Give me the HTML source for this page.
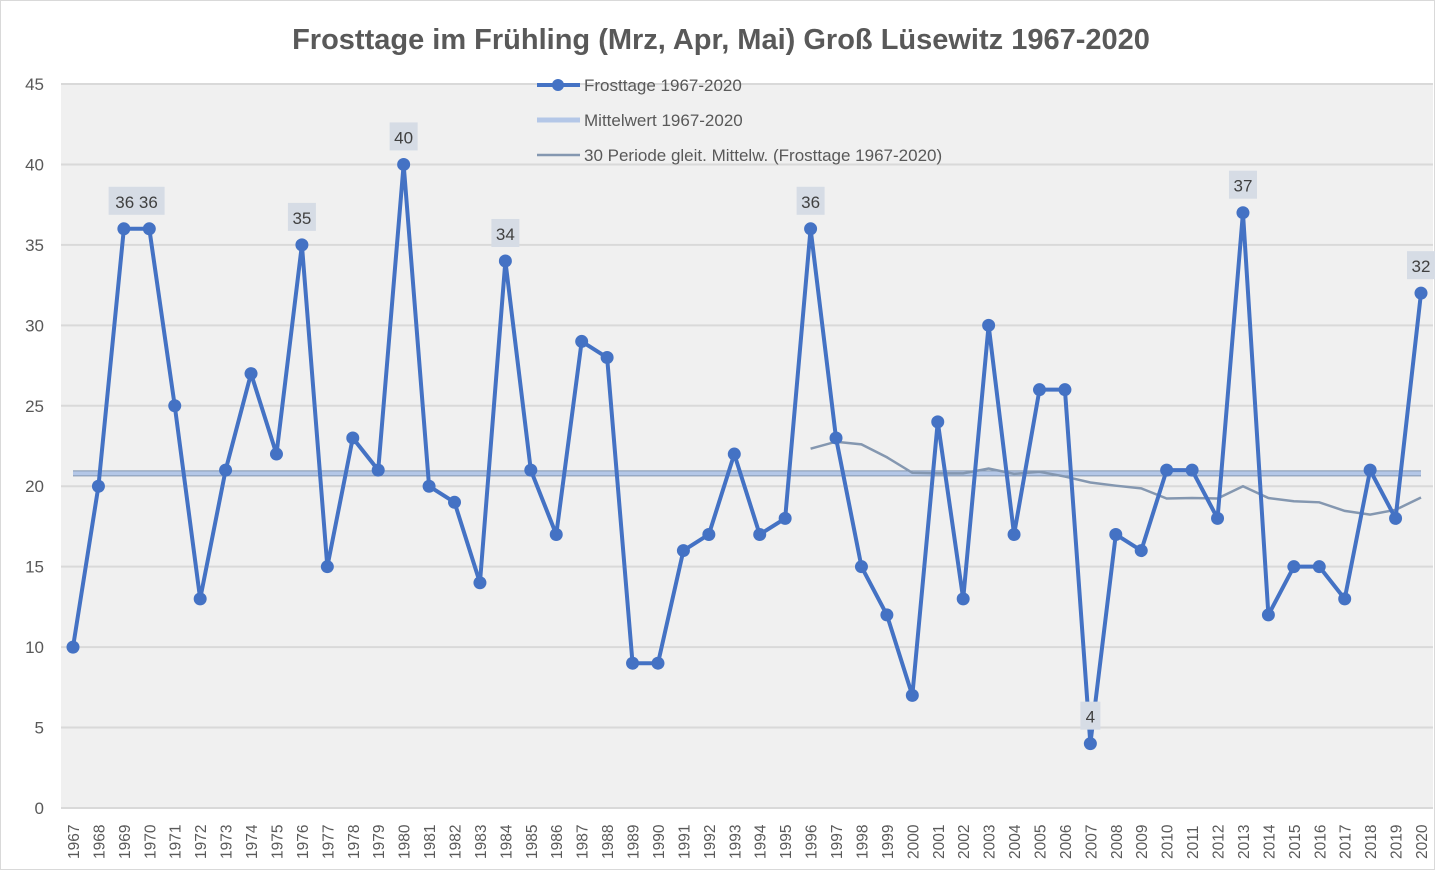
<!DOCTYPE html>
<html><head><meta charset="utf-8"><style>
html,body{margin:0;padding:0;background:#fff;}
svg{display:block;font-family:"Liberation Sans",sans-serif;}
</style></head><body>
<svg id="c" width="1441" height="873" xmlns="http://www.w3.org/2000/svg">
<rect x="0.5" y="0.5" width="1434" height="869" fill="#fff" stroke="#d9d9d9"/>
<rect x="61" y="84" width="1372" height="724" fill="#f0f0f0"/>
<text x="721" y="49" text-anchor="middle" font-size="29" font-weight="bold" fill="#595959">Frosttage im Frühling (Mrz, Apr, Mai) Groß Lüsewitz 1967-2020</text>
<g id="g"></g>
</svg>
<script>
var d=[10,20,36,36,25,13,21,27,22,35,15,23,21,40,20,19,14,34,21,17,29,28,9,9,16,17,22,17,18,36,23,15,12,7,24,13,30,17,26,26,4,17,16,21,21,18,37,12,15,15,13,21,18,32];
function X(i){return 73+i*25.434;}
function Y(v){return 808-v*16.089;}
var s='';
for(var v=0;v<=45;v+=5){s+='<line x1="61" x2="1433" y1="'+Y(v)+'" y2="'+Y(v)+'" stroke="#d9d9d9" stroke-width="2"/>';
s+='<text x="44" y="'+(Y(v)+6)+'" text-anchor="end" font-size="17" fill="#595959">'+v+'</text>';}
for(var i=0;i<d.length;i++){var x=X(i);s+='<text transform="translate('+(x+6)+',859) rotate(-90)" font-size="15.5" fill="#595959">'+(1967+i)+'</text>';}
var sum=0;d.forEach(function(a){sum+=a});var m=sum/d.length;
s+='<line x1="73" x2="1421" y1="'+Y(m)+'" y2="'+Y(m)+'" stroke="#8497b0" stroke-width="6"/>';
s+='<line x1="73" x2="1421" y1="'+Y(m)+'" y2="'+Y(m)+'" stroke="#b4c7e7" stroke-width="4"/>';
var p='';for(i=29;i<d.length;i++){var t=0;for(var k=i-29;k<=i;k++)t+=d[k];p+=(i==29?'M':'L')+X(i)+','+Y(t/30);}
s+='<path d="'+p+'" fill="none" stroke="#8497b0" stroke-width="2.5"/>';
p='';for(i=0;i<d.length;i++)p+=(i?'L':'M')+X(i)+','+Y(d[i]);
s+='<path d="'+p+'" fill="none" stroke="#4472c4" stroke-width="4" stroke-linejoin="round"/>';
for(i=0;i<d.length;i++)s+='<circle cx="'+X(i)+'" cy="'+Y(d[i])+'" r="6.5" fill="#4472c4"/>';
var L=[[2.5,'36 36',56],[9,'35',28],[13,'40',28],[17,'34',28],[29,'36',28],[46,'37',28],[53,'32',28],[40,'4',20]];
L.forEach(function(l){var i=l[0];var x=i%1?(X(2)+X(3))/2:X(i);var v=i%1?36:d[i];var y=Y(v)-27;
s+='<rect x="'+(x-l[2]/2)+'" y="'+(y-15)+'" width="'+l[2]+'" height="28" fill="#d6dce5"/>';
s+='<text x="'+x+'" y="'+(y+6)+'" text-anchor="middle" font-size="17" fill="#404040">'+l[1]+'</text>';});
s+='<line x1="537" x2="580" y1="85" y2="85" stroke="#4472c4" stroke-width="4"/><circle cx="558" cy="85" r="6" fill="#4472c4"/>';
s+='<line x1="537" x2="580" y1="120" y2="120" stroke="#b4c7e7" stroke-width="5"/>';
s+='<line x1="537" x2="580" y1="155" y2="155" stroke="#8497b0" stroke-width="2.5"/>';
s+='<text x="584" y="91" font-size="17" fill="#595959">Frosttage 1967-2020</text>';
s+='<text x="584" y="126" font-size="17" fill="#595959">Mittelwert 1967-2020</text>';
s+='<text x="584" y="161" font-size="17" fill="#595959">30 Periode gleit. Mittelw. (Frosttage 1967-2020)</text>';
document.getElementById('g').innerHTML=s;
</script>
</body></html>
